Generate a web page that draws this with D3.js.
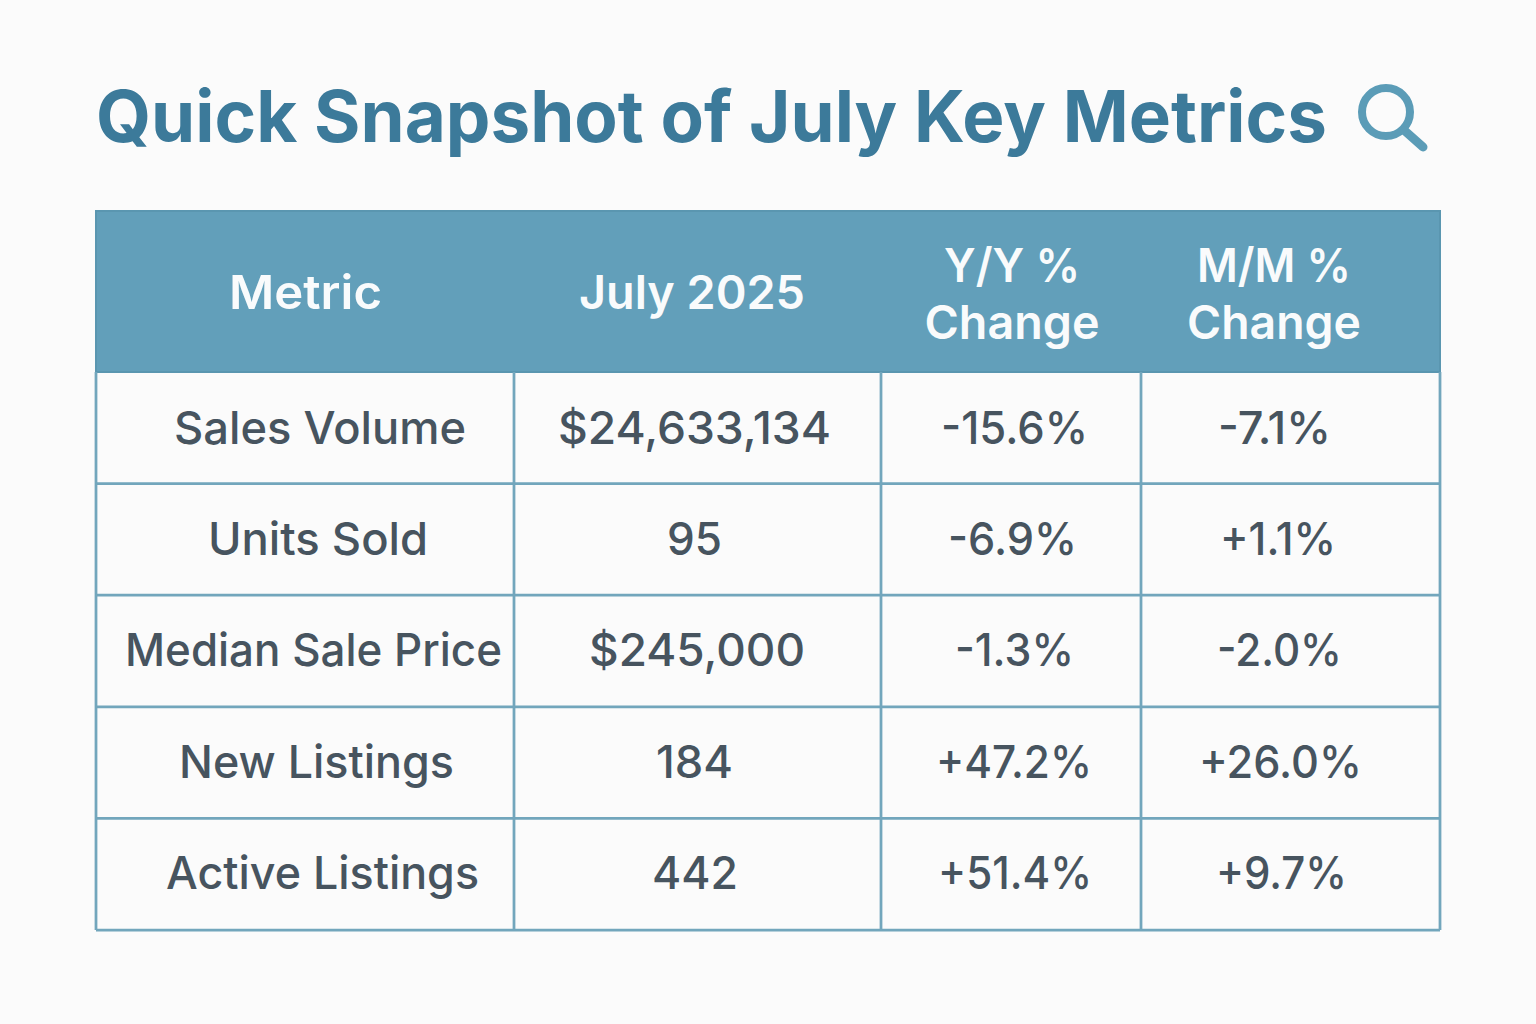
<!DOCTYPE html>
<html>
<head>
<meta charset="utf-8">
<script src="https://cdn.jsdelivr.net/npm/d3@7"></script>
<style>
html, body { margin: 0; padding: 0; background: #fbfbfb; }
svg { display: block; }
text { font-family: Inter, "Open Sans", sans-serif; }
</style>
</head>
<body>
<svg id="chart" width="1536" height="1024"></svg>
<script>
var titleText = "Quick Snapshot of July Key Metrics";
var headers = [["Metric"], ["July 2025"], ["Y/Y %", "Change"], ["M/M %", "Change"]];
var metrics = ["Sales Volume", "Units Sold", "Median Sale Price", "New Listings", "Active Listings"];
var july = ["$24,633,134", "95", "$245,000", "184", "442"];
var yoy = ["-15.6%", "-6.9%", "-1.3%", "+47.2%", "+51.4%"];
var mom = ["-7.1%", "+1.1%", "-2.0%", "+26.0%", "+9.7%"];

var columns = [metrics, july, yoy, mom];
var colEdges = [96, 514, 881, 1141, 1440];
var headTop = 211, headBottom = 372, tableBottom = 930;
var teal = "#629fba", border = "#72a6bc", bodyText = "#47545f", titleColor = "#3c7a9a";

// the text in the reference sits a bit off centre and the widths vary,
// so each cell gets its own nudge and measured width
var headNudge = [0.5, -5.5, 1, -16.5];
var headWidth = [[153], [226], [136, 175], [154, 174]];
var cellNudge = [
    [15, 13, 8.5, 11.5, 17.5],
    [-3, -3, -0.5, -3, -2.5],
    [3.5, 1.5, 3.5, 3, 4],
    [-16, -12.5, -11, -10, -9]
];
var cellWidth = [
    [292, 220, 377, 275, 313],
    [273, 55, 216, 77, 86],
    [147, 129, 119, 156, 154],
    [113, 116, 125, 163, 131]
];
var rowNudge = [1, 1, 0, 0, 0];

var svg = d3.select("#chart");

var rowBand = d3.scaleBand().domain(metrics).range([headBottom, tableBottom]);
var colCentre = d3.scaleOrdinal().domain(d3.range(4))
    .range(d3.range(4).map(function(i) { return (colEdges[i] + colEdges[i + 1]) / 2; }));

svg.append("text")
    .attr("x", 96).attr("y", 142)
    .attr("font-size", 72).attr("font-weight", 700)
    .attr("fill", titleColor)
    .attr("textLength", 1231).attr("lengthAdjust", "spacingAndGlyphs")
    .text(titleText);

// magnifier
var icon = svg.append("g").attr("fill", "none").attr("stroke", "#5b9cb7");
icon.append("circle").attr("cx", 1386).attr("cy", 112).attr("r", 24).attr("stroke-width", 8);
icon.append("line").attr("x1", 1405).attr("y1", 131).attr("x2", 1423).attr("y2", 147)
    .attr("stroke-width", 9).attr("stroke-linecap", "round");

// header
svg.append("rect").attr("x", colEdges[0]).attr("y", headTop)
    .attr("width", colEdges[4] - colEdges[0]).attr("height", headBottom - headTop)
    .attr("fill", teal).attr("stroke", "#5a96b0").attr("stroke-width", 2);

headers.forEach(function(lines, i) {
    var y0 = lines.length == 1 ? 309 : 282;
    lines.forEach(function(l, k) {
        svg.append("text").attr("x", colCentre(i) + headNudge[i]).attr("y", y0 + k * 57)
            .attr("text-anchor", "middle").attr("font-size", 47).attr("font-weight", 600)
            .attr("textLength", headWidth[i][k]).attr("lengthAdjust", "spacingAndGlyphs")
            .attr("fill", "#f9fbfc").text(l);
    });
});

// grid
svg.selectAll("line.row").data(metrics).enter().append("line").attr("class", "row")
    .attr("x1", colEdges[0]).attr("x2", colEdges[4])
    .attr("y1", function(d) { return rowBand(d) + rowBand.bandwidth(); })
    .attr("y2", function(d) { return rowBand(d) + rowBand.bandwidth(); })
    .attr("stroke", border).attr("stroke-width", 2.75);
svg.selectAll("line.col").data(colEdges).enter().append("line").attr("class", "col")
    .attr("x1", function(d) { return d; }).attr("x2", function(d) { return d; })
    .attr("y1", headBottom).attr("y2", tableBottom)
    .attr("stroke", border).attr("stroke-width", 2.75);

// cells
columns.forEach(function(col, c) {
    svg.selectAll("text.c" + c).data(col).enter().append("text").attr("class", "c" + c)
        .attr("x", function(d, r) { return colCentre(c) + cellNudge[c][r]; })
        .attr("y", function(d, r) { return rowBand(metrics[r]) + rowBand.bandwidth() / 2 + 15 + rowNudge[r]; })
        .attr("text-anchor", "middle").attr("font-size", 45.5).attr("font-weight", 500)
        .attr("textLength", function(d, r) { return cellWidth[c][r]; })
        .attr("lengthAdjust", "spacingAndGlyphs")
        .attr("fill", bodyText).text(function(d) { return d; });
});
</script>
</body>
</html>
